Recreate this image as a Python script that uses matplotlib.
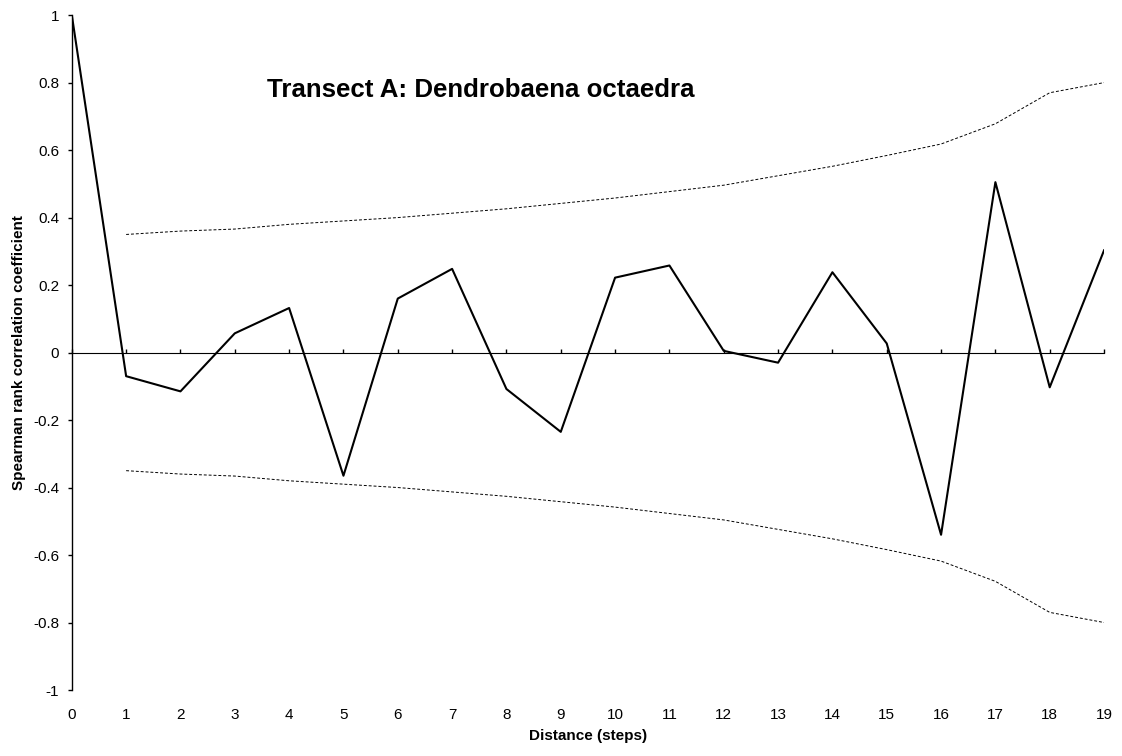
import matplotlib.pyplot as plt
import numpy as np

plt.rcParams['font.family'] = ['Liberation Sans', 'DejaVu Sans']

# lag distance (steps)
distance = list(range(20))

# Spearman correlogram values
rho = [1.0, -0.07, -0.115, 0.057, 0.132, -0.365, 0.16, 0.248, -0.108, -0.235,
       0.222, 0.258, 0.005, -0.03, 0.238, 0.027, -0.54, 0.505, -0.103, 0.303]

# confidence envelope, from step 1 on
env_steps = list(range(1, 20))
upper = [0.35, 0.36, 0.366, 0.38, 0.39, 0.40, 0.413, 0.426, 0.442, 0.458,
         0.477, 0.496, 0.524, 0.552, 0.584, 0.618, 0.678, 0.77, 0.80]
lower = [-u for u in upper]

yticks = np.arange(-1, 1.01, 0.2)
ytick_labels = ['-1', '-0.8', '-0.6', '-0.4', '-0.2', '0', '0.2', '0.4', '0.6', '0.8', '1']

fig = plt.figure(figsize=(11.22, 7.56), dpi=100)
ax = fig.add_axes([0.064, 0.0873, 0.92, 0.8927])

ax.plot(distance, rho, color='black', lw=1.5)
ax.plot(env_steps, upper, color='black', lw=0.7, dashes=(3, 2))
ax.plot(env_steps, lower, color='black', lw=0.7, dashes=(3, 2))

ax.set_xlim(0, 19)
ax.set_ylim(-1, 1)
ax.set_yticks(yticks)
ax.set_yticklabels(ytick_labels)
ax.set_xticks(distance)

for s in ['top', 'right', 'bottom']:
    ax.spines[s].set_visible(False)
ax.spines['left'].set_linewidth(1.0)
ax.tick_params(axis='y', direction='out', length=3, width=1, labelsize=11, pad=6)
ax.tick_params(axis='x', length=0, labelsize=11, pad=13)

# zero line with tick marks (Excel style, labels stay at the bottom)
sec = ax.secondary_xaxis(0.5)
sec.set_xticks(distance)
sec.set_xticklabels([])
sec.tick_params(axis='x', direction='out', length=3, width=1)
sec.spines['bottom'].set_linewidth(1.0)

ax.set_xlabel('Distance (steps)', fontsize=11, fontweight='bold', labelpad=5)
ax.set_ylabel('Spearman rank correlation coefficient', fontsize=11, fontweight='bold', labelpad=5)

ax.text(0.189, 0.8785, 'Transect A: Dendrobaena octaedra', transform=ax.transAxes,
        fontsize=18.6, fontweight='bold', ha='left', va='baseline')

fig.savefig('out.png', dpi=100)
